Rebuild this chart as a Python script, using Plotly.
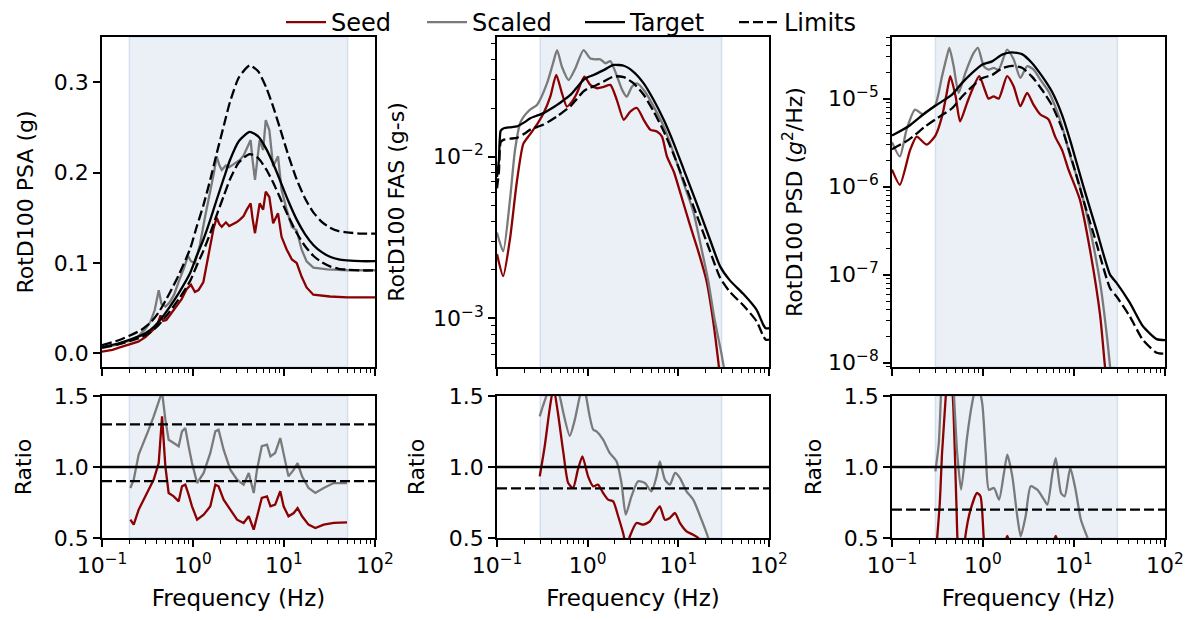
import plotly.graph_objects as go

# ---------------- data ----------------
# PSA panel
psa_target_f = [0.1, 0.15, 0.2, 0.27, 0.34, 0.42, 0.5, 0.56, 0.7, 0.93, 1.1, 1.3, 1.55, 1.82, 2.2, 2.55,
                3.2, 4.2, 5.2, 6.4, 7.6, 9.0, 11, 13.8, 17, 21, 26, 32, 40, 49, 70, 100]
psa_target = [0.007, 0.011, 0.015, 0.020, 0.026, 0.035, 0.045, 0.052, 0.067, 0.089, 0.108, 0.126, 0.148,
              0.170, 0.195, 0.214, 0.235, 0.245, 0.240, 0.226, 0.210, 0.192, 0.170, 0.148, 0.132, 0.120,
              0.112, 0.107, 0.104, 0.103, 0.102, 0.102]
psa_upper_factor = 1.3
psa_lower_factor = 0.9

psa_seed_f = [0.1, 0.13, 0.16, 0.2, 0.25, 0.3, 0.35, 0.4, 0.44, 0.47, 0.51, 0.58, 0.66, 0.75, 0.85, 0.95,
              1.05, 1.15, 1.3, 1.42, 1.54, 1.68, 1.82, 1.95, 2.07, 2.3, 2.5, 2.77, 3.0, 3.28, 3.6, 3.9,
              4.3, 4.5, 4.8, 5.1, 5.4, 5.9, 6.3, 6.9, 7.6, 8.6, 9.4, 10.7, 12.2, 13.8, 15.6, 17.7, 21,
              32, 50, 100]
psa_seed = [0.002, 0.004, 0.007, 0.010, 0.013, 0.018, 0.024, 0.030, 0.042, 0.036, 0.037, 0.045, 0.052,
            0.060, 0.071, 0.076, 0.068, 0.070, 0.079, 0.100, 0.118, 0.138, 0.150, 0.143, 0.140, 0.145,
            0.141, 0.143, 0.145, 0.148, 0.152, 0.159, 0.166, 0.150, 0.133, 0.150, 0.166, 0.159, 0.179,
            0.173, 0.144, 0.155, 0.129, 0.115, 0.104, 0.100, 0.085, 0.073, 0.065, 0.063, 0.062, 0.062]

psa_scaled_f = [0.1, 0.15, 0.2, 0.25, 0.3, 0.34, 0.38, 0.42, 0.45, 0.5, 0.55, 0.62, 0.7, 0.8, 0.88, 0.95,
                1.05, 1.19, 1.35, 1.54, 1.7, 1.82, 1.95, 2.07, 2.3, 2.5, 2.9, 3.28, 3.6, 3.9, 4.3, 4.5,
                4.8, 5.1, 5.4, 5.9, 6.3, 6.9, 7.6, 8.6, 9.4, 10.7, 12.2, 13.8, 15.6, 17.7, 21, 30, 50, 100]
psa_scaled = [0.006, 0.010, 0.014, 0.019, 0.027, 0.035, 0.048, 0.070, 0.055, 0.052, 0.056, 0.065, 0.080,
              0.095, 0.108, 0.102, 0.100, 0.120, 0.150, 0.177, 0.200, 0.218, 0.208, 0.203, 0.208, 0.206,
              0.210, 0.214, 0.219, 0.227, 0.236, 0.215, 0.192, 0.215, 0.236, 0.225, 0.258, 0.247, 0.207,
              0.218, 0.181, 0.159, 0.140, 0.136, 0.115, 0.102, 0.095, 0.093, 0.092, 0.092]

psa_ratio_f = [0.205, 0.223, 0.253, 0.287, 0.326, 0.37, 0.42, 0.457, 0.497, 0.54, 0.614, 0.696, 0.757,
               0.823, 0.895, 0.975, 1.11, 1.31, 1.55, 1.76, 1.91, 2.17, 2.57, 3.05, 3.6, 4.1, 4.65, 5.05,
               5.7, 6.5, 7.1, 8.0, 9.1, 9.9, 11.2, 12.8, 14.1, 15.8, 18.6, 22.1, 27.3, 35.2, 49.2]
psa_ratio_scaled = [0.852, 0.911, 1.087, 1.169, 1.263, 1.357, 1.474, 1.53, 1.333, 1.192, 1.169, 1.146,
                    1.251, 1.275, 1.146, 1.028, 0.887, 0.958, 1.099, 1.251, 1.263, 1.122, 0.981, 0.911,
                    0.876, 0.958, 0.817, 0.981, 1.146, 1.157, 1.075, 1.099, 1.204, 1.099, 0.934, 0.981,
                    1.028, 0.934, 0.852, 0.817, 0.852, 0.887, 0.887]
psa_ratio_seed = [0.629, 0.594, 0.70, 0.77, 0.829, 0.911, 1.028, 1.357, 1.005, 0.817, 0.793, 0.758,
                  0.864, 0.876, 0.805, 0.723, 0.629, 0.664, 0.723, 0.876, 0.864, 0.77, 0.70, 0.629,
                  0.606, 0.653, 0.559, 0.653, 0.782, 0.793, 0.723, 0.735, 0.829, 0.723, 0.653, 0.676,
                  0.711, 0.653, 0.594, 0.57, 0.594, 0.606, 0.61]

# FAS panel
fas_target_f = [0.1, 0.105, 0.11, 0.119, 0.14, 0.166, 0.2, 0.233, 0.28, 0.327, 0.39, 0.46, 0.55, 0.645,
                0.76, 0.9, 1.0, 1.16, 1.5, 1.94, 2.5, 3.2, 4.15, 5.35, 6.9, 8.9, 11.5, 15.8, 22.2, 28.9,
                37, 52, 73, 86, 92, 100]
fas_target = [0.0075, 0.0095, 0.0145, 0.0150, 0.0152, 0.0154, 0.0163, 0.0173, 0.0180, 0.0186, 0.0197,
              0.0209, 0.0225, 0.0241, 0.0268, 0.0298, 0.031, 0.032, 0.0343, 0.0369, 0.0365, 0.0335,
              0.0284, 0.0224, 0.0169, 0.0121, 0.0083, 0.0052, 0.0031, 0.0021, 0.00172, 0.00142,
              0.00113, 0.00092, 0.00087, 0.00087]
fas_lower_factor = 0.85

fas_seed_f = [0.1, 0.117, 0.139, 0.165, 0.195, 0.23, 0.28, 0.327, 0.387, 0.45, 0.52, 0.59, 0.67, 0.76,
              0.92, 1.07, 1.27, 1.5, 1.78, 2.1, 2.5, 2.95, 3.5, 4.15, 4.9, 5.8, 6.6, 7.5, 8.9, 10.5,
              13.4, 16.6, 20.5, 24, 27.5, 31]
fas_seed = [0.0025, 0.00183, 0.0031, 0.0069, 0.012, 0.0137, 0.0160, 0.0186, 0.0235, 0.032, 0.0247,
            0.0204, 0.0219, 0.0247, 0.0313, 0.0278, 0.0265, 0.027, 0.0278, 0.0224, 0.0169, 0.019,
            0.020, 0.0169, 0.0147, 0.0143, 0.0133, 0.0100, 0.0081, 0.0060, 0.0038, 0.0026, 0.0017,
            0.0010, 0.00055, 0.0003]

fas_scaled_f = [0.1, 0.117, 0.139, 0.158, 0.18, 0.197, 0.23, 0.276, 0.356, 0.415, 0.46, 0.52, 0.617,
                0.73, 0.9, 1.07, 1.22, 1.38, 1.57, 1.78, 2.11, 2.4, 2.7, 3.08, 3.5, 4.3, 5.35, 6.9, 8.9,
                11.5, 14.6, 18, 21.4, 25, 30, 34]
fas_scaled = [0.0034, 0.0026, 0.0054, 0.011, 0.0161, 0.0177, 0.0195, 0.0209, 0.0284, 0.0378, 0.0456,
              0.036, 0.0298, 0.0351, 0.0456, 0.0405, 0.040, 0.040, 0.0378, 0.039, 0.0313, 0.0259,
              0.0235, 0.0271, 0.0284, 0.0252, 0.0204, 0.0154, 0.0105, 0.0068, 0.0046, 0.0027, 0.0017,
              0.0010, 0.0006, 0.0004]

fas_ratio_scaled_f = [0.296, 0.32, 0.35, 0.40, 0.45, 0.5, 0.54, 0.634, 0.72, 0.82, 0.89, 0.96, 1.05,
                      1.15, 1.25, 1.48, 1.75, 2.08, 2.36, 2.63, 3.04, 3.6, 4.27, 5.06, 5.75, 6.25, 7.1,
                      8.06, 9.2, 10.4, 12.3, 14.6, 18, 21.4, 23.3]
fas_ratio_scaled = [1.357, 1.427, 1.5, 1.62, 1.58, 1.48, 1.38, 1.22, 1.33, 1.5, 1.58, 1.5, 1.36, 1.263,
                    1.251, 1.192, 1.099, 1.04, 0.887, 0.664, 0.793, 0.899, 0.887, 0.829, 0.934, 1.04,
                    0.911, 0.876, 0.958, 0.923, 0.829, 0.77, 0.629, 0.5, 0.418]
fas_ratio_seed_f = [0.296, 0.336, 0.38, 0.42, 0.47, 0.54, 0.61, 0.69, 0.78, 0.875, 1.01, 1.15, 1.3,
                    1.48, 1.68, 1.91, 2.17, 2.46, 2.68, 2.92, 3.45, 4.1, 4.85, 5.5, 6.25, 7.1, 8.06,
                    9.2, 10.4, 12.3, 14.6, 16.6, 18]
fas_ratio_seed = [0.934, 1.146, 1.404, 1.56, 1.38, 1.099, 0.887, 0.852, 0.981, 1.075, 0.934, 0.864,
                  0.876, 0.817, 0.77, 0.758, 0.653, 0.535, 0.44, 0.512, 0.606, 0.594, 0.617, 0.676,
                  0.723, 0.629, 0.641, 0.676, 0.606, 0.547, 0.523, 0.5, 0.47]

# PSD panel
psd_target_f = [0.1, 0.152, 0.232, 0.3, 0.355, 0.457, 0.59, 0.76, 0.975, 1.26, 1.62, 2.08, 2.68, 3.45,
                4.45, 5.7, 7.4, 9.2, 12.7, 17.7, 24.9, 29.5, 41, 57, 81, 100]
psd_target = [3.8e-6, 4.85e-6, 6.9e-6, 8.3e-6, 9.3e-6, 1.11e-5, 1.51e-5, 1.96e-5, 2.43e-5, 2.65e-5,
              3.16e-5, 3.36e-5, 3.2e-5, 2.54e-5, 1.8e-5, 1.21e-5, 6.5e-6, 3.2e-6, 1.0e-6, 3.2e-7,
              1.0e-7, 8.0e-8, 4.8e-8, 2.6e-8, 1.85e-8, 1.8e-8]
psd_lower_factor = 0.7

psd_seed_f = [0.1, 0.122, 0.158, 0.187, 0.24, 0.3, 0.355, 0.40, 0.437, 0.50, 0.56, 0.667, 0.79, 0.91,
              1.06, 1.15, 1.31, 1.49, 1.84, 2.17, 2.57, 3.05, 3.6, 4.27, 5.25, 6.2, 7.4, 8.7, 11.6, 15,
              19.4, 21.9, 24]
psd_seed = [1.56e-6, 1.05e-6, 2.6e-6, 3.7e-6, 3.0e-6, 3.8e-6, 6.3e-6, 1.16e-5, 1.8e-5, 1.06e-5, 5.5e-6,
            8.9e-6, 1.38e-5, 1.8e-5, 1.21e-5, 1.0e-5, 1.06e-5, 1.0e-5, 1.8e-5, 1.38e-5, 8.2e-6,
            1.16e-5, 8.5e-6, 6.6e-6, 5.8e-6, 3.7e-6, 2.6e-6, 1.56e-6, 7.1e-7, 1.9e-7, 3.4e-8, 9e-9,
            4e-9]

psd_scaled_f = [0.1, 0.122, 0.145, 0.179, 0.22, 0.26, 0.3, 0.355, 0.40, 0.427, 0.476, 0.54, 0.64, 0.79,
                0.88, 1.02, 1.15, 1.31, 1.49, 1.84, 2.17, 2.57, 3.05, 3.6, 4.27, 5.25, 6.2, 7.4, 9.1,
                11.6, 15, 19.4, 23, 25.5]
psd_scaled = [3.2e-6, 2.2e-6, 4.5e-6, 7.5e-6, 6.6e-6, 7.5e-6, 8.5e-6, 1.8e-5, 3.0e-5, 3.77e-5, 2.33e-5,
              1.16e-5, 1.96e-5, 3.3e-5, 3.77e-5, 2.33e-5, 2.14e-5, 2.23e-5, 2.14e-5, 3.6e-5, 2.8e-5,
              1.72e-5, 2.33e-5, 2.14e-5, 1.64e-5, 1.21e-5, 8.2e-6, 4.85e-6, 2.2e-6, 1.0e-6, 3.3e-7,
              8e-8, 2e-8, 7e-9]

psd_ratio_scaled_f = [0.3, 0.327, 0.345, 0.36, 0.4, 0.44, 0.48, 0.52, 0.575, 0.67, 0.76, 0.86, 0.98,
                      1.07, 1.16, 1.32, 1.5, 1.7, 1.85, 2.1, 2.38, 2.6, 2.94, 3.34, 3.95, 4.68, 5.1,
                      5.8, 6.3, 7.2, 7.9, 9.1, 10.4, 11.9, 14.1, 15.3]
psd_ratio_scaled = [0.969, 1.169, 1.5, 1.7, 2.0, 1.9, 1.5, 1.099, 0.84, 1.216, 1.45, 1.6, 1.45, 1.099,
                    0.84, 0.852, 0.77, 0.958, 1.087, 0.934, 0.653, 0.512, 0.653, 0.864, 0.84, 0.77,
                    0.735, 0.958, 1.063, 0.817, 0.793, 0.993, 0.84, 0.629, 0.5, 0.44]
psd_ratio_seed_f = [0.3, 0.335, 0.355, 0.39, 0.42, 0.47, 0.51, 0.54, 0.6, 0.64, 0.73, 0.86, 0.94, 1.02,
                    1.1, 1.4, 1.7, 1.85, 2.0, 2.5, 3.5, 5.0, 5.8, 6.3, 6.8, 8, 10, 12]
psd_ratio_seed = [0.35, 0.746, 1.1, 1.5, 1.9, 1.45, 0.746, 0.37, 0.3, 0.512, 0.7, 0.817, 0.793, 0.5,
                  0.35, 0.3, 0.45, 0.515, 0.45, 0.3, 0.25, 0.35, 0.45, 0.515, 0.45, 0.3, 0.25, 0.2]

band_psa = [0.2, 50]
band_fas = [0.3, 30]
band_psd = [0.3, 30]

x_ticks = [0.1, 1, 10, 100]
x_ticktext = ["10<sup>\u22121</sup>", "10<sup>0</sup>", "10<sup>1</sup>", "10<sup>2</sup>"]
ratio_ticks = [0.5, 1.0, 1.5]
ratio_ticktext = ["0.5", "1.0", "1.5"]
psa_ticks = [0.0, 0.1, 0.2, 0.3]
psa_ticktext = ["0.0", "0.1", "0.2", "0.3"]
fas_ticks = [1e-3, 1e-2]
fas_ticktext = ["10<sup>\u22123</sup>", "10<sup>\u22122</sup>"]
psd_ticks = [1e-8, 1e-7, 1e-6, 1e-5]
psd_ticktext = ["10<sup>\u22128</sup>", "10<sup>\u22127</sup>", "10<sup>\u22126</sup>", "10<sup>\u22125</sup>"]

# ---------------- styling ----------------
RED = "#8b0000"
GRAY = "#7a7a7a"
BLACK = "#000000"
LW = 2.3
DASH = "10px,4px"
FONT = "DejaVu Sans"
FS = 22
FS_TITLE = 23
FS_LEGEND = 24
legend_widths = {"Seed": 86, "Scaled": 103, "Target": 99, "Limits": 80}


def minor_vals(lo_exp, hi_exp):
    out = []
    for e in range(lo_exp, hi_exp + 1):
        for m in range(2, 10):
            out.append(m * 10.0 ** e)
    return out


fig = go.Figure()

W, H = 1193, 620
cols = [(102, 375), (497, 769), (892, 1165)]
rows = [(37, 367), (396, 538)]


def dom_x(c):
    return [cols[c][0] / W, cols[c][1] / W]


def dom_y(r):
    return [1 - rows[r][1] / H, 1 - rows[r][0] / H]


def add(idx, x, y, color, dash=None, name=None, show=False, shape="linear"):
    kw = {}
    if show:
        kw["legendwidth"] = legend_widths[name]
    fig.add_trace(go.Scatter(
        x=x, y=y, mode="lines", name=name, showlegend=show, legendgroup=name,
        line=dict(color=color, width=LW, dash=dash, shape=shape, smoothing=0.6),
        xaxis="x" if idx == 1 else f"x{idx}", yaxis="y" if idx == 1 else f"y{idx}",
        hoverinfo="skip", **kw))


def scaled(vals, k):
    return [v * k for v in vals]


# Panel 1: PSA
add(1, psa_seed_f, psa_seed, RED, name="Seed", show=True)
add(1, psa_scaled_f, psa_scaled, GRAY, name="Scaled", show=True)
add(1, psa_target_f, psa_target, BLACK, name="Target", show=True, shape="spline")
add(1, psa_target_f, scaled(psa_target, psa_upper_factor), BLACK, dash=DASH, name="Limits", show=True, shape="spline")
add(1, psa_target_f, scaled(psa_target, psa_lower_factor), BLACK, dash=DASH, name="Limits", shape="spline")

# Panel 2: FAS
add(2, fas_seed_f, fas_seed, RED, name="Seed", shape="spline")
add(2, fas_scaled_f, fas_scaled, GRAY, name="Scaled", shape="spline")
add(2, fas_target_f, fas_target, BLACK, name="Target", shape="spline")
add(2, fas_target_f, scaled(fas_target, fas_lower_factor), BLACK, dash=DASH, name="Limits", shape="spline")

# Panel 3: PSD
add(3, psd_seed_f, psd_seed, RED, name="Seed", shape="spline")
add(3, psd_scaled_f, psd_scaled, GRAY, name="Scaled", shape="spline")
add(3, psd_target_f, psd_target, BLACK, name="Target", shape="spline")
add(3, psd_target_f, scaled(psd_target, psd_lower_factor), BLACK, dash=DASH, name="Limits", shape="spline")

# Ratio panels
full_x = [0.1, 100]
add(4, psa_ratio_f, psa_ratio_seed, RED, name="Seed")
add(4, psa_ratio_f, psa_ratio_scaled, GRAY, name="Scaled")
add(4, full_x, [1.0, 1.0], BLACK, name="Target")
add(4, full_x, [psa_upper_factor] * 2, BLACK, dash=DASH, name="Limits")
add(4, full_x, [psa_lower_factor] * 2, BLACK, dash=DASH, name="Limits")

add(5, fas_ratio_seed_f, fas_ratio_seed, RED, name="Seed", shape="spline")
add(5, fas_ratio_scaled_f, fas_ratio_scaled, GRAY, name="Scaled", shape="spline")
add(5, full_x, [1.0, 1.0], BLACK, name="Target")
add(5, full_x, [fas_lower_factor] * 2, BLACK, dash=DASH, name="Limits")

add(6, psd_ratio_seed_f, psd_ratio_seed, RED, name="Seed", shape="spline")
add(6, psd_ratio_scaled_f, psd_ratio_scaled, GRAY, name="Scaled", shape="spline")
add(6, full_x, [1.0, 1.0], BLACK, name="Target")
add(6, full_x, [psd_lower_factor] * 2, BLACK, dash=DASH, name="Limits")

axis_common = dict(
    showline=True, linecolor="black", linewidth=1.6, mirror=True,
    ticks="outside", ticklen=7, tickwidth=1.5, tickcolor="black",
    showgrid=False, zeroline=False, automargin=False,
    tickfont=dict(family=FONT, size=FS, color="black"),
)

layout = dict(
    width=W, height=H,
    margin=dict(l=0, r=0, t=0, b=0),
    paper_bgcolor="white", plot_bgcolor="white",
    font=dict(family=FONT, size=FS, color="black"),
    showlegend=True,
    legend=dict(orientation="h", x=281 / W, xanchor="left", y=1.0, yanchor="top",
                font=dict(family=FONT, size=FS_LEGEND, color="black"), bgcolor="rgba(0,0,0,0)",
                itemwidth=40, traceorder="normal"),
)

x_minor = dict(ticks="outside", ticklen=4, tickwidth=1.2, tickcolor="black",
               tickmode="array", tickvals=minor_vals(-1, 1), showgrid=False)

for i in range(1, 7):
    c = (i - 1) % 3
    r = 0 if i <= 3 else 1
    key = "xaxis" if i == 1 else f"xaxis{i}"
    ax = dict(axis_common)
    ax.update(type="log", range=[-1, 2], domain=dom_x(c),
              anchor="y" if i == 1 else f"y{i}",
              tickmode="array", tickvals=x_ticks, ticktext=x_ticktext,
              minor=x_minor)
    if r == 0:
        ax["showticklabels"] = False
    else:
        ax["title"] = dict(text="Frequency (Hz)", font=dict(family=FONT, size=FS_TITLE), standoff=13)
    layout[key] = ax

y_defs = {
    1: dict(type="linear", range=[-0.015, 0.35], tickmode="array", tickvals=psa_ticks, ticktext=psa_ticktext,
            title=dict(text="RotD100 PSA (g)", standoff=14)),
    2: dict(type="log", range=[-3.30, -1.26], tickmode="array", tickvals=fas_ticks, ticktext=fas_ticktext,
            minor=dict(ticks="outside", ticklen=4, tickwidth=1.2, tickcolor="black", tickmode="array",
                       tickvals=minor_vals(-4, -2), showgrid=False),
            title=dict(text="RotD100 FAS (g-s)", standoff=22)),
    3: dict(type="log", range=[-8.05, -4.30], tickmode="array", tickvals=psd_ticks, ticktext=psd_ticktext,
            minor=dict(ticks="outside", ticklen=4, tickwidth=1.2, tickcolor="black", tickmode="array",
                       tickvals=minor_vals(-9, -5), showgrid=False),
            title=dict(text="RotD100 PSD (<i>g</i><sup>2</sup>/Hz)", standoff=19)),
}
ratio_standoff = {4: 16, 5: 18, 6: 16}
for i in range(1, 7):
    c = (i - 1) % 3
    r = 0 if i <= 3 else 1
    key = "yaxis" if i == 1 else f"yaxis{i}"
    ax = dict(axis_common)
    ax.update(domain=dom_y(r), anchor="x" if i == 1 else f"x{i}")
    if r == 0:
        d = dict(y_defs[i])
        t = d.pop("title")
        t["font"] = dict(family=FONT, size=FS)
        ax.update(d)
        ax["title"] = t
    else:
        ax.update(type="linear", range=[0.5, 1.5], tickmode="array", tickvals=ratio_ticks,
                  ticktext=ratio_ticktext,
                  title=dict(text="Ratio", font=dict(family=FONT, size=FS), standoff=ratio_standoff[i]))
    layout[key] = ax

shapes = []
bands = {1: band_psa, 2: band_fas, 3: band_psd, 4: band_psa, 5: band_fas, 6: band_psd}
for i, b in bands.items():
    shapes.append(dict(type="rect", xref="x" if i == 1 else f"x{i}",
                       yref="y domain" if i == 1 else f"y{i} domain",
                       x0=b[0], x1=b[1], y0=0, y1=1, layer="below",
                       fillcolor="rgba(176,196,222,0.25)",
                       line=dict(color="rgba(176,196,222,0.45)", width=1.5)))
layout["shapes"] = shapes

fig.update_layout(**layout)
fig.write_html("out.html")
